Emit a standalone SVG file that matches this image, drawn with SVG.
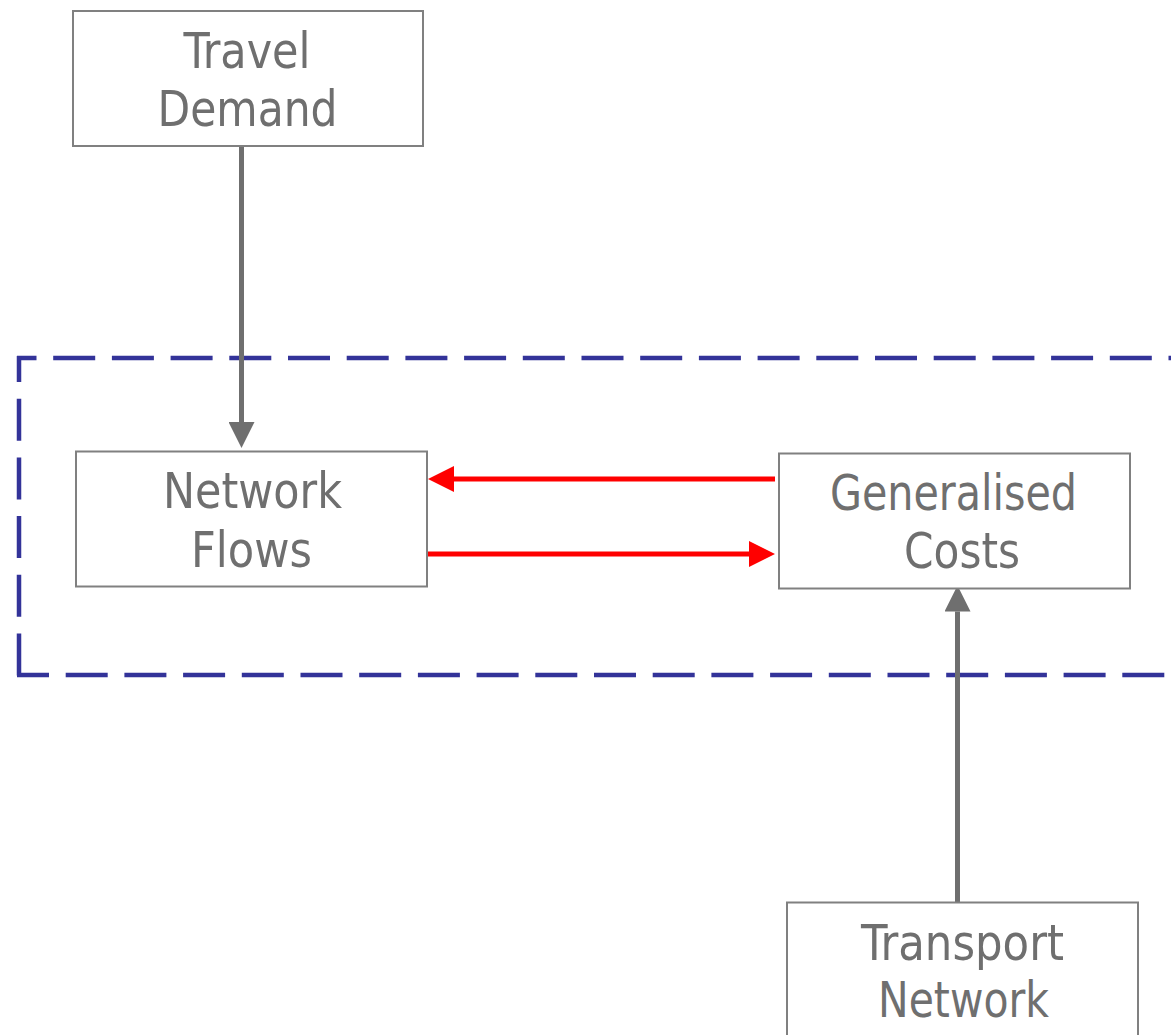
<svg xmlns="http://www.w3.org/2000/svg" width="1171" height="1035" viewBox="0 0 1171 1035">
  <style>
    .box { fill: #ffffff; stroke: #808080; stroke-width: 2; }
    .label { font-family: "DejaVu Sans Condensed", "DejaVu Sans", sans-serif; font-size: 50px; fill: #6f6f6f; text-anchor: middle; }
    .gray { stroke: #6f6f6f; stroke-width: 5; fill: none; }
    .red { stroke: #ff0000; stroke-width: 5; fill: none; }
    .frame { stroke: #333399; stroke-width: 4.5; fill: none; stroke-dasharray: 42 16.7; }
  </style>
  <defs>
    <marker id="headGray" markerUnits="userSpaceOnUse" markerWidth="26" markerHeight="26" refX="0" refY="13" orient="auto" viewBox="0 0 26 26">
      <path d="M0,0 L26,13 L0,26 Z" fill="#6f6f6f"/>
    </marker>
    <marker id="headRed" markerUnits="userSpaceOnUse" markerWidth="26" markerHeight="26" refX="0" refY="13" orient="auto" viewBox="0 0 26 26">
      <path d="M0,0 L26,13 L0,26 Z" fill="#ff0000"/>
    </marker>
  </defs>

  <rect width="1171" height="1035" fill="#ffffff"/>

  <!-- dashed boundary around the equilibrium loop (open on the right) -->
  <g id="equilibrium-frame">
    <path class="frame" d="M17,358 H1190" stroke-dashoffset="22.5"/>
    <path class="frame" d="M19,356 V677" stroke-dashoffset="16"/>
    <path class="frame" d="M17,675 H1190" stroke-dashoffset="10"/>
  </g>

  <g id="connectors">
    <path class="gray" d="M241.5,147 V422" marker-end="url(#headGray)"/>
    <path class="gray" d="M957.5,902 V611.5" marker-end="url(#headGray)"/>
    <path class="red" d="M775,479 H454" marker-end="url(#headRed)"/>
    <path class="red" d="M428,554 H749" marker-end="url(#headRed)"/>
  </g>

  <g id="travel-demand">
    <rect class="box" x="73" y="11" width="350" height="135"/>
    <text class="label" x="247" y="68" textLength="127" lengthAdjust="spacingAndGlyphs">Travel</text>
    <text class="label" x="247.5" y="126" textLength="180" lengthAdjust="spacingAndGlyphs">Demand</text>
  </g>

  <g id="network-flows">
    <rect class="box" x="76" y="451.5" width="351" height="135"/>
    <text class="label" x="252.5" y="508" textLength="179" lengthAdjust="spacingAndGlyphs">Network</text>
    <text class="label" x="251.5" y="566.5" textLength="121" lengthAdjust="spacingAndGlyphs">Flows</text>
  </g>

  <g id="generalised-costs">
    <rect class="box" x="779" y="453.5" width="351" height="135"/>
    <text class="label" x="953.5" y="510" textLength="247" lengthAdjust="spacingAndGlyphs">Generalised</text>
    <text class="label" x="962" y="568" textLength="116" lengthAdjust="spacingAndGlyphs">Costs</text>
  </g>

  <g id="transport-network">
    <rect class="box" x="787" y="902.5" width="351" height="145"/>
    <text class="label" x="962.5" y="960" textLength="203" lengthAdjust="spacingAndGlyphs">Transport</text>
    <text class="label" x="963.5" y="1016.5" textLength="171" lengthAdjust="spacingAndGlyphs">Network</text>
  </g>
</svg>
